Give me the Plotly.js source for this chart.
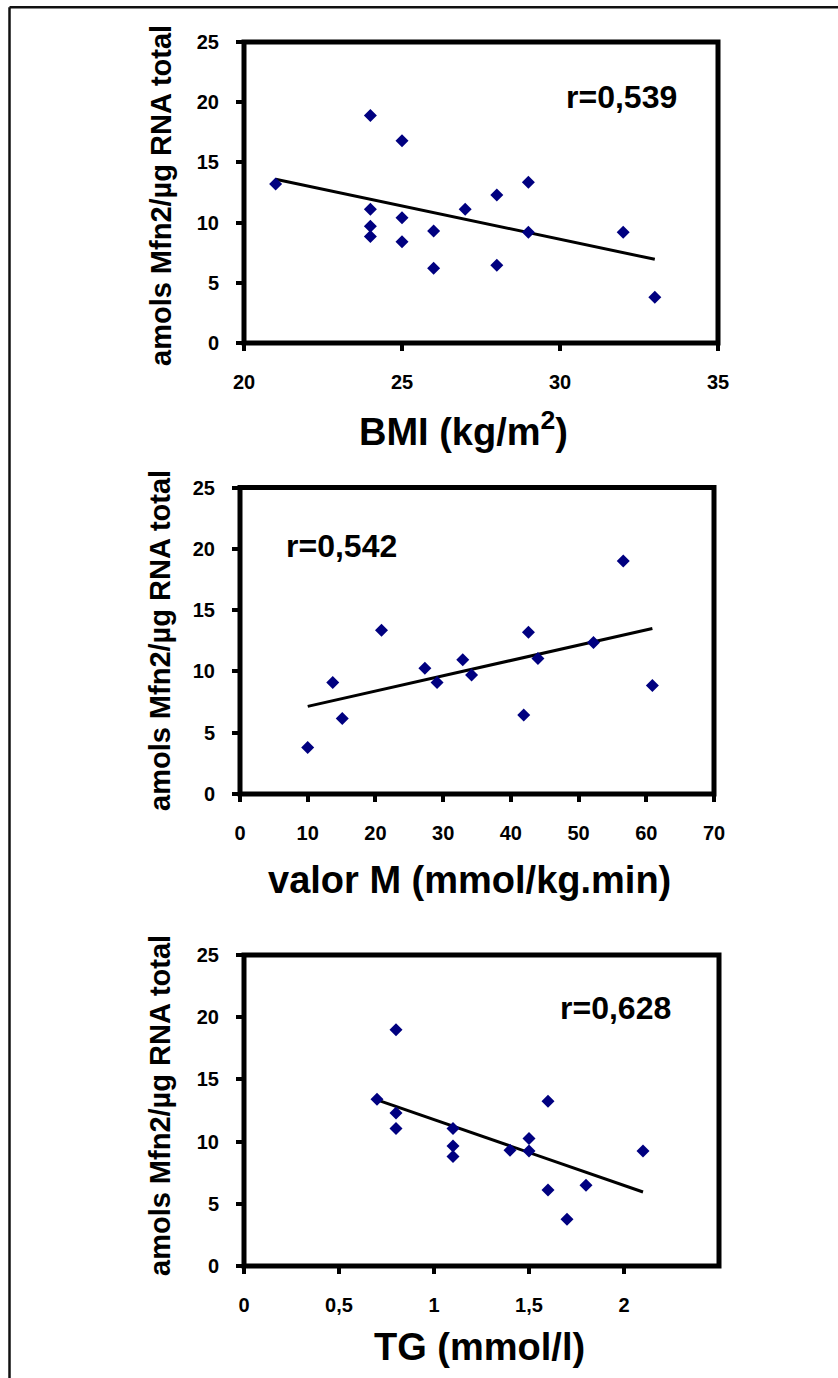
<!DOCTYPE html>
<html><head><meta charset="utf-8">
<script src="https://cdn.plot.ly/plotly-3.0.1.min.js"></script>
<style>html,body{margin:0;padding:0;background:#fff;}#chart{width:838px;height:1378px;}</style>
</head><body><div id="chart"></div>
<script>
// ---- data ----
const yTicks = [0, 5, 10, 15, 20, 25];
const yTitle = 'amols Mfn2/µg RNA total';

const bmiX = [21, 24, 25, 24, 24, 24, 25, 25, 26, 26, 27, 28, 28, 29, 29, 32, 33];
const bmiY = [13.2, 18.9, 16.8, 11.1, 9.7, 8.85, 10.4, 8.4, 9.3, 6.2, 11.1, 12.3, 6.45, 13.35, 9.2, 9.2, 3.8];
const bmiTrendX = [21, 33];
const bmiTrendY = [13.6, 6.95];
const bmiTicks = [20, 25, 30, 35];
const bmiTitle = 'BMI (kg/m<sup>2</sup>)';
const bmiR = 'r=0,539';

const mX = [10, 13.7, 15.1, 20.9, 27.3, 29.1, 32.9, 34.2, 41.9, 42.6, 44.0, 52.2, 56.6, 60.9];
const mY = [3.8, 9.1, 6.15, 13.35, 10.25, 9.1, 10.95, 9.7, 6.45, 13.2, 11.05, 12.35, 19.0, 8.85];
const mTrendX = [10, 60.9];
const mTrendY = [7.15, 13.5];
const mTicks = [0, 10, 20, 30, 40, 50, 60, 70];
const mTitle = 'valor M (mmol/kg.min)';
const mR = 'r=0,542';

const tgX = [0.7, 0.8, 0.8, 0.8, 1.1, 1.1, 1.1, 1.4, 1.5, 1.5, 1.6, 1.6, 1.7, 1.8, 2.1];
const tgY = [13.4, 19.0, 12.3, 11.05, 11.05, 9.65, 8.8, 9.3, 10.25, 9.25, 13.25, 6.1, 3.75, 6.5, 9.25];
const tgTrendX = [0.7, 2.1];
const tgTrendY = [13.35, 5.95];
const tgTicks = [0, 0.5, 1, 1.5, 2];
const tgTitle = 'TG (mmol/l)';
const tgR = 'r=0,628';

// ---- layout helpers ----
const W = 838, H = 1378, LW = 5;
const FONT = 'Arial, "Liberation Sans", sans-serif';
function box(L, R, T, B, xr, yr) {
  return {xd: [L / W, R / W], yd: [1 - B / H, 1 - T / H], xr: xr, yr: yr};
}
const px = v => v / W, py = v => 1 - v / H;

const b1 = box(244, 718, 42, 343, [20, 35], [0, 25]);
const b2 = box(240, 714, 487.5, 794, [0, 70], [0, 25]);
const b3 = box(244, 719, 955, 1266, [0, 2.5], [0, 25]);

const tf = {family: FONT, size: 20, color: '#000', weight: 'bold'};
function xa(b, ticks, anchor) {
  return {domain: b.xd, range: b.xr, anchor: anchor, tickvals: ticks,
    showline: false, ticks: 'outside', ticklen: 7, tickwidth: 4, tickcolor: '#000',
    ticklabelstandoff: 14, tickfont: tf,
    showgrid: false, zeroline: false, fixedrange: true};
}
function ya(b, anchor) {
  return {domain: b.yd, range: b.yr, anchor: anchor, tickvals: yTicks,
    showline: false, ticks: 'outside', ticklen: 7, tickwidth: 4, tickcolor: '#000',
    ticklabelstandoff: 13, tickfont: tf,
    showgrid: false, zeroline: false, fixedrange: true};
}
function frame(n) {
  const s = n === 1 ? '' : String(n);
  return {type: 'rect', xref: 'x' + s + ' domain', yref: 'y' + s + ' domain',
    x0: 0, x1: 1, y0: 0, y1: 1, line: {color: '#000', width: LW}, fillcolor: 'rgba(0,0,0,0)'};
}

const mk = {symbol: 'diamond', size: 10, color: '#000080'};
const ln = {color: '#000', width: 3};
const traces = [
  {x: bmiTrendX, y: bmiTrendY, xaxis: 'x', yaxis: 'y', mode: 'lines', type: 'scatter', line: ln},
  {x: bmiX, y: bmiY, xaxis: 'x', yaxis: 'y', mode: 'markers', type: 'scatter', marker: mk},
  {x: mTrendX, y: mTrendY, xaxis: 'x2', yaxis: 'y2', mode: 'lines', type: 'scatter', line: ln},
  {x: mX, y: mY, xaxis: 'x2', yaxis: 'y2', mode: 'markers', type: 'scatter', marker: mk},
  {x: tgTrendX, y: tgTrendY, xaxis: 'x3', yaxis: 'y3', mode: 'lines', type: 'scatter', line: ln},
  {x: tgX, y: tgY, xaxis: 'x3', yaxis: 'y3', mode: 'markers', type: 'scatter', marker: mk}
];

function ann(text, x, y, size, angle) {
  return {text: text, xref: 'paper', yref: 'paper', x: px(x), y: py(y),
    xanchor: 'center', yanchor: 'middle', showarrow: false, textangle: angle || 0,
    font: {family: FONT, size: size, color: '#000', weight: 'bold'}};
}

const layout = {
  width: W, height: H, margin: {l: 0, r: 0, t: 0, b: 0},
  paper_bgcolor: '#fff', plot_bgcolor: '#fff', showlegend: false,
  separators: ',.',
  xaxis: xa(b1, bmiTicks, 'y'), yaxis: ya(b1, 'x'),
  xaxis2: xa(b2, mTicks, 'y2'), yaxis2: ya(b2, 'x2'),
  xaxis3: xa(b3, tgTicks, 'y3'), yaxis3: ya(b3, 'x3'),
  annotations: [
    ann(yTitle, 161, 196, 29, -90),
    ann(yTitle, 160, 641, 29, -90),
    ann(yTitle, 160, 1106, 29, -90),
    ann(bmiTitle, 464, 429, 38),
    ann(mTitle, 469, 880, 38),
    ann(tgTitle, 479, 1347, 38),
    ann(bmiR, 621, 97, 32),
    ann(mR, 341, 546, 32),
    ann(tgR, 615, 1008, 32)
  ],
  shapes: [
    frame(1), frame(2), frame(3),
    {type: 'line', xref: 'paper', yref: 'paper', x0: px(9.5), x1: 1.01, y0: py(7.3), y1: py(7.3), line: {color: '#111', width: 2.5}},
    {type: 'line', xref: 'paper', yref: 'paper', x0: px(9.5), x1: px(9.5), y0: py(7.3), y1: -0.01, line: {color: '#111', width: 2.5}}
  ]
};

Plotly.newPlot('chart', traces, layout, {staticPlot: true, displayModeBar: false});
</script>
</body></html>
